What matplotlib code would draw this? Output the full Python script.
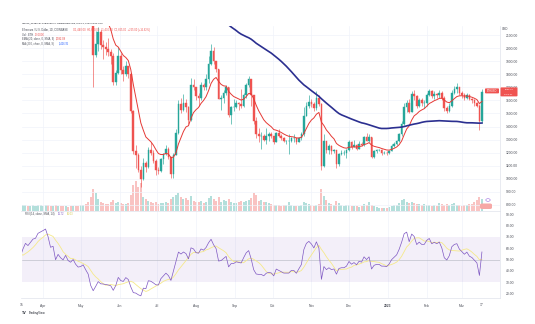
import numpy as np
import pandas as pd
import matplotlib
matplotlib.use("Agg")
import matplotlib.pyplot as plt
import matplotlib.dates as mdates
from matplotlib.patches import FancyBboxPatch, Circle

plt.rcParams['font.family'] = ['Liberation Sans', 'DejaVu Sans']

# 2-day candles, ETH/USD, starting 2022-01-31
start = '2022-01-31'
closes = [2690, 2780, 2990, 3020, 3120, 3080, 2920, 2930, 3120, 2800,
          2630, 2640, 2600, 2770, 2920, 2950, 2620, 2550, 2570, 2610, 2570,
          2590, 2770, 2940, 2900, 3000, 3110, 3140, 3330, 3390, 3450,
          3520, 3410, 3230, 3260, 2980, 3120, 3040, 2990, 3100, 2980,
          2940, 3000, 2890, 2820, 2830, 2860, 2750, 2640, 2240, 1950,
          2030, 2120, 2020, 2010, 1990, 1970, 1940, 1740, 1810, 1940,
          1830, 1800, 1860, 1800, 1520, 1210, 1180, 1070, 1000, 1120,
          1090, 1220, 1200, 1140, 1070, 1060, 1150, 1190, 1230, 1170,
          1040, 1180, 1350, 1570, 1530, 1580, 1550, 1450, 1720, 1700,
          1630, 1620, 1720, 1700, 1760, 1880, 1980, 1900, 1840, 1610,
          1620, 1660, 1700, 1490, 1550, 1550, 1580, 1570, 1560, 1640,
          1720, 1760, 1640, 1440, 1340, 1330, 1330, 1300, 1330, 1340,
          1330, 1280, 1350, 1330, 1310, 1290, 1290, 1290, 1310, 1310,
          1280, 1310, 1340, 1480, 1560, 1590, 1570, 1540, 1620, 1570,
          1100, 1290, 1220, 1250, 1210, 1220, 1110, 1190, 1200, 1200,
          1220, 1280, 1240, 1260, 1230, 1270, 1260, 1320, 1290, 1320,
          1170, 1210, 1220, 1220, 1200, 1200, 1195, 1215, 1250, 1270,
          1290, 1340, 1420, 1550, 1580, 1510, 1650, 1630, 1560, 1600,
          1580, 1580, 1640, 1670, 1630, 1650, 1640, 1660, 1620, 1540,
          1520, 1560, 1660, 1690, 1700, 1660, 1640, 1620, 1640, 1610,
          1600, 1580, 1560, 1440, 1665]
highs = [2800, 2820, 3030, 3080, 3180, 3200, 3090, 2990, 3190, 3120,
         2720, 2700, 2760, 2800, 2990, 3040, 2960, 2660, 2650, 2700, 2640,
         2620, 2800, 2990, 2980, 3050, 3140, 3200, 3420, 3440, 3480,
         3580, 3540, 3420, 3300, 3270, 3140, 3120, 3080, 3160, 3120,
         3000, 3020, 3010, 2900, 2880, 2980, 2880, 2800, 2660, 2350,
         2130, 2160, 2140, 2060, 2050, 2080, 1990, 1960, 1830, 2010,
         1960, 1860, 1900, 1860, 1810, 1530, 1260, 1200, 1100, 1160,
         1140, 1240, 1280, 1220, 1150, 1090, 1160, 1200, 1260, 1240,
         1170, 1200, 1380, 1600, 1620, 1650, 1610, 1560, 1770, 1760,
         1700, 1660, 1740, 1730, 1800, 1940, 2030, 2010, 1900, 1840,
         1640, 1680, 1720, 1700, 1560, 1610, 1600, 1590, 1690, 1660,
         1730, 1790, 1760, 1640, 1470, 1390, 1360, 1340, 1390, 1360,
         1360, 1330, 1360, 1380, 1340, 1320, 1300, 1340, 1320, 1340,
         1310, 1320, 1360, 1550, 1590, 1640, 1610, 1590, 1670, 1640,
         1580, 1340, 1290, 1270, 1260, 1230, 1220, 1200, 1220, 1220,
         1230, 1300, 1290, 1300, 1270, 1290, 1280, 1330, 1350, 1340,
         1320, 1220, 1230, 1230, 1230, 1210, 1210, 1220, 1270, 1280,
         1300, 1350, 1440, 1580, 1600, 1610, 1670, 1680, 1640, 1620,
         1620, 1600, 1660, 1690, 1680, 1670, 1660, 1680, 1670, 1630,
         1560, 1580, 1680, 1710, 1730, 1700, 1670, 1660, 1660, 1650,
         1620, 1610, 1590, 1570, 1690]
lows = [2600, 2680, 2760, 2950, 2990, 3040, 2860, 2850, 2900, 2780,
        2560, 2580, 2300, 2580, 2760, 2880, 2590, 2480, 2500, 2560, 2520,
        2500, 2560, 2760, 2870, 2880, 3000, 3080, 3130, 3290, 3360,
        3430, 3380, 3200, 3180, 2950, 2960, 3000, 2940, 2980, 2950,
        2870, 2890, 2800, 2780, 2750, 2780, 2700, 2600, 2200, 1700,
        1930, 1980, 1990, 1920, 1950, 1940, 1880, 1720, 1720, 1800,
        1800, 1750, 1790, 1770, 1500, 1190, 1080, 1050, 940, 990,
        1050, 1080, 1180, 1120, 1030, 1040, 1050, 1110, 1180, 1150,
        1010, 1010, 1180, 1340, 1500, 1520, 1510, 1420, 1440, 1680,
        1600, 1560, 1600, 1680, 1680, 1730, 1870, 1880, 1820, 1610,
        1530, 1580, 1640, 1470, 1420, 1520, 1540, 1530, 1540, 1550,
        1620, 1700, 1560, 1420, 1310, 1280, 1230, 1290, 1270, 1290,
        1310, 1270, 1280, 1320, 1300, 1280, 1270, 1190, 1280, 1280,
        1270, 1280, 1300, 1330, 1480, 1540, 1550, 1520, 1530, 1560,
        1070, 1090, 1200, 1190, 1190, 1200, 1080, 1100, 1180, 1180,
        1160, 1210, 1230, 1240, 1220, 1230, 1250, 1250, 1290, 1280,
        1160, 1160, 1200, 1210, 1180, 1190, 1185, 1190, 1210, 1240,
        1260, 1280, 1330, 1410, 1510, 1500, 1510, 1600, 1540, 1550,
        1560, 1540, 1560, 1630, 1620, 1610, 1620, 1620, 1600, 1520,
        1500, 1510, 1550, 1650, 1660, 1640, 1620, 1600, 1610, 1600,
        1580, 1560, 1550, 1370, 1430]
# volume, thousand ETH
volume = [8, 8, 8, 8, 8, 8, 8, 8, 8, 8,
          8, 8, 10, 8, 7, 7, 7, 6, 6, 6, 6,
          5, 6, 6, 5, 5, 6, 5, 6, 6, 5, 6, 6, 5, 5, 6, 5, 5, 5, 5, 4, 5, 5, 5, 5, 6,
          6, 7, 9, 14, 22,
          18, 12, 9, 8, 7, 7, 9, 11, 8, 9, 8, 7, 7, 8,
          16, 26, 30, 24, 28, 14, 12, 10,
          9, 8, 9, 7, 8, 8, 9, 8, 12, 14,
          16, 18, 14, 12, 13, 11, 15, 10, 9, 9, 10, 8, 9, 13,
          15, 12, 10, 14, 9, 11, 10, 12, 9, 8, 8, 9, 10, 9,
          10, 11, 13, 18, 16, 10, 11, 9, 9, 8,
          7, 6, 6, 6, 5, 6, 6, 9, 6, 5, 5, 5, 6, 9, 8, 7, 6, 5, 6, 7,
          22, 15, 11, 8, 7, 6, 10, 8, 6, 5,
          6, 6, 5, 5, 5, 4, 5, 7, 6, 9, 6, 5, 4, 3, 3, 3, 3, 4, 5, 6,
          6, 8, 11, 12, 9, 8, 9, 8, 7, 7, 6, 7, 6, 6, 5,
          6, 5, 8, 7, 6, 7, 6, 7, 8, 6, 6, 5, 6, 6, 7, 7, 9, 11, 14, 12]

price_ticks = list(range(800, 2101, 100))
rsi_ticks = list(range(20, 91, 10))
month_ticks = ['2022-04-01', '2022-05-01', '2022-06-01', '2022-07-01', '2022-08-01',
               '2022-09-01', '2022-10-01', '2022-11-01', '2022-12-01', '2023-01-01',
               '2023-02-01', '2023-03-01']
month_labels = ['Apr', 'May', 'Jun', 'Jul', 'Aug', 'Sep', 'Oct', 'Nov', 'Dec', '2023', 'Feb', 'Mar']

UP = '#26a69a'
DOWN = '#ef5350'
GRID = '#f0f3fa'
TXT = '#4a4d57'

c = np.array(closes, dtype=float)
h = np.array(highs, dtype=float)
l = np.array(lows, dtype=float)
v = np.array(volume, dtype=float)
o = np.r_[c[0], c[:-1]]
dates = pd.date_range(start, periods=len(c), freq='2D')
x = mdates.date2num(dates)
cols = np.where(c >= o, UP, DOWN)

s = pd.Series(c)
ema20 = s.ewm(span=10, adjust=False).mean()
sma200 = s.rolling(100).mean()
d = s.diff()
n_rsi = 13
gain = d.clip(lower=0).ewm(alpha=1 / n_rsi, adjust=False).mean()
loss = (-d.clip(upper=0)).ewm(alpha=1 / n_rsi, adjust=False).mean()
rsi = 100 - 100 / (1 + gain / loss)
rsi_ma = rsi.rolling(7).mean()

W, H = 535, 324
fig = plt.figure(figsize=(W / 100, H / 100), dpi=100)
fig.patch.set_facecolor('white')

def px(x0, y0, w, hgt):
    return [x0 / W, 1 - (y0 + hgt) / H, w / W, hgt / H]

ax = fig.add_axes(px(21.5, 26, 478.5, 185))
axr = fig.add_axes(px(21.5, 211, 478.5, 87), sharex=ax)

# volume overlay
axv = ax.twinx()
axv.bar(x, v, width=1.6, color=cols, alpha=0.35, linewidth=0)
axv.set_ylim(0, 184)
axv.axis('off')
ax.set_zorder(axv.get_zorder() + 1)
ax.patch.set_visible(False)

# candles
ax.vlines(x, l, h, colors=cols, linewidth=0.45)
ax.bar(x, np.abs(c - o), bottom=np.minimum(o, c), width=1.3, color=cols,
       edgecolor=cols, linewidth=0.3)
ax.plot(x, ema20, color='#e53935', linewidth=0.7)
ax.plot(x, sma200, color='#2b2f90', linewidth=1.2)

ax.set_xlim(mdates.date2num(pd.Timestamp('2022-03-14 20:00')),
            mdates.date2num(pd.Timestamp('2023-03-31 10:00')))
ax.set_ylim(754, 2169)

tick_x = [mdates.date2num(pd.Timestamp(t)) for t in month_ticks]
for a in (ax, axr):
    a.set_xticks(tick_x)
    for t in tick_x:
        a.axvline(t, color=GRID, linewidth=0.5, zorder=0)
    for sp in a.spines.values():
        sp.set_visible(False)
    a.spines['right'].set_visible(True)
    a.spines['right'].set_color('#e0e3eb')
    a.spines['right'].set_linewidth(0.5)
    a.spines['bottom'].set_visible(True)
    a.spines['bottom'].set_color('#e0e3eb')
    a.spines['bottom'].set_linewidth(0.5)
    a.yaxis.tick_right()
    a.tick_params(axis='y', length=0, pad=4, labelsize=2.4, labelcolor=TXT)

ax.set_yticks(price_ticks)
ax.set_yticklabels([f'{p:.2f}' for p in price_ticks])
for p in price_ticks:
    ax.axhline(p, color=GRID, linewidth=0.5, zorder=0)
ax.tick_params(axis='x', length=0, labelbottom=False)

# RSI pane
axr.fill_between([x[0] - 60, x[-1] + 60], 30, 70, color='#7e57c2', alpha=0.09, linewidth=0)
axr.axhline(50, color='#b2b5be', linewidth=0.4)
axr.plot(x, rsi_ma, color='#f5e98a', linewidth=0.6)
axr.plot(x, rsi, color='#7e57c2', linewidth=0.5)
axr.set_ylim(15.8, 93.1)
axr.set_yticks(rsi_ticks)
axr.set_yticklabels([f'{r:.2f}' for r in rsi_ticks])
axr.set_xticklabels(month_labels)
axr.tick_params(axis='x', length=0, pad=4.5, labelsize=2.4, labelcolor=TXT)
for lab in axr.get_xticklabels():
    if lab.get_text() == '2023':
        lab.set_fontweight('bold')
for t, lab in (('2022-03-15', '15'), ('2023-03-17', '17')):
    axr.text(mdates.date2num(pd.Timestamp(t)), -0.085, lab, transform=axr.get_xaxis_transform(),
             ha='center', va='center', fontsize=2.4, color=TXT)

# header / legends
def ftext(xp, yp, s, **kw):
    kw.setdefault('fontsize', 2.0)
    kw.setdefault('color', TXT)
    fig.text(xp / W, 1 - yp / H, s, va='center', ha='left', **kw)

last = len(c) - 1
chg = c[last] - c[last - 1]
ftext(22, 23.5, 'rakesh_upadhyay published on TradingView.com, Mar 13, 2023 08:09 UTC',
      fontsize=1.75, color='#131722')
ftext(22, 30, 'Ethereum / U.S. Dollar, 1D, COINBASE', fontsize=1.9)
ftext(73, 30, f'O{o[last]:,.2f}  H{h[last]:,.2f}  L{l[last]:,.2f}  C{c[last]:,.2f}  '
      f'{chg:+,.2f} ({chg / o[last] * 100:+.2f}%)', fontsize=1.9, color=DOWN)
ftext(22, 34.5, 'Vol · ETH', fontsize=1.9)
ftext(35, 34.5, f'{v[last]:.3f}K', fontsize=1.9, color=DOWN)
ftext(22, 39, 'EMA (20, close, 0, SMA, 9)', fontsize=1.9)
ftext(56, 39, f'{ema20.iloc[-1]:,.2f}', fontsize=1.9, color='#e53935')
ftext(22, 43.5, 'MA (200, close, 0, SMA, 9)', fontsize=1.9)
ftext(59, 43.5, f'{sma200.iloc[-1]:,.2f}', fontsize=1.9, color='#2962ff')
ftext(25, 214, 'RSI (14, close, SMA, 14)', fontsize=1.9)
ftext(58, 214, f'{rsi.iloc[-1]:.2f}', fontsize=1.9, color='#7e57c2')
ftext(67, 214, f'{rsi_ma.iloc[-1]:.2f}', fontsize=1.9, color='#d8c94a')
ftext(502, 29, 'USD', fontsize=2.2)

# TradingView mark
ftext(22, 313, 'TV', fontsize=2.6, color='#131722', fontweight='bold')
ftext(29, 313, 'TradingView', fontsize=2.2, color='#131722')

# last price tags
ly = 1 - (35 + (2100 - c[last]) / 7.647) / H
fig.patches.append(FancyBboxPatch((500.5 / W, ly - 4.5 / H), 17 / W, 9 / H,
                                  boxstyle='round,pad=0,rounding_size=0.002',
                                  transform=fig.transFigure, facecolor=DOWN,
                                  edgecolor='none'))
fig.text(509 / W, ly + 2.2 / H, f'{c[last]:.2f}', color='white', fontsize=1.7,
         ha='center', va='center')
fig.text(509 / W, ly - 2.2 / H, '15:50:51', color='white', fontsize=1.7,
         ha='center', va='center')
fig.patches.append(FancyBboxPatch((485 / W, ly - 1.5 / H), 14 / W, 5 / H,
                                  boxstyle='round,pad=0,rounding_size=0.002',
                                  transform=fig.transFigure, facecolor=DOWN,
                                  edgecolor='none'))
fig.text(492 / W, ly + 1 / H, 'ETHUSD', color='white', fontsize=1.8,
         ha='center', va='center')
fig.patches.append(FancyBboxPatch((480 / W, 1 - 209 / H), 12 / W, 5.5 / H,
                                  boxstyle='round,pad=0,rounding_size=0.004',
                                  transform=fig.transFigure, facecolor='#f6a8a6',
                                  edgecolor='none'))
fig.patches.append(Circle((488 / W, 1 - 200 / H), 2.2 / W, transform=fig.transFigure,
                          facecolor='white', edgecolor='#9c6ade', linewidth=0.4))

fig.savefig('out.png', dpi=100, facecolor='white')
